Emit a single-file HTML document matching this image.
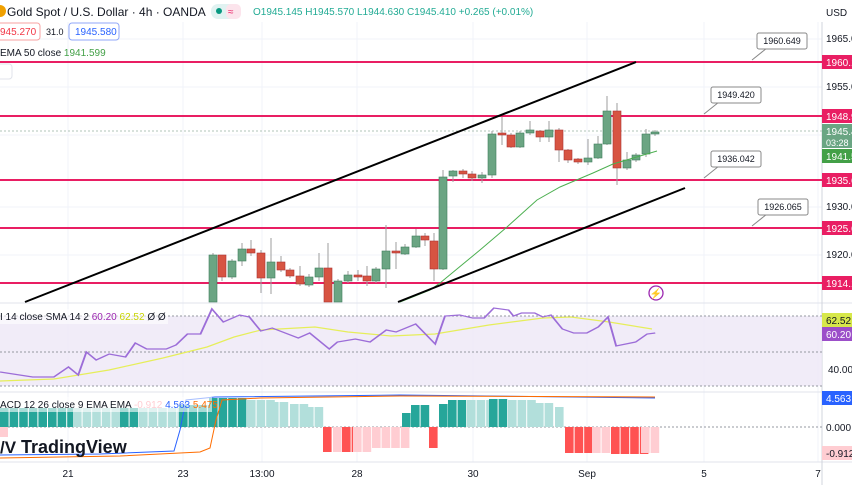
<!DOCTYPE html>
<html><head><meta charset="utf-8"><style>
body{margin:0;width:852px;height:485px;overflow:hidden;background:#fff;font-family:"Liberation Sans",sans-serif}
svg{display:block}
text{font-family:"Liberation Sans",sans-serif}
</style></head><body>
<svg width="852" height="485" xmlns="http://www.w3.org/2000/svg">
<g stroke="#f0f3fa" stroke-width="1">
<line x1="68" y1="0" x2="68" y2="462"/><line x1="183" y1="0" x2="183" y2="462"/><line x1="262" y1="0" x2="262" y2="462"/><line x1="357" y1="0" x2="357" y2="462"/><line x1="473" y1="0" x2="473" y2="462"/><line x1="587" y1="0" x2="587" y2="462"/><line x1="704" y1="0" x2="704" y2="462"/><line x1="818" y1="0" x2="818" y2="462"/>
<line x1="0" y1="15" x2="822" y2="15"/><line x1="0" y1="39" x2="822" y2="39"/><line x1="0" y1="87" x2="822" y2="87"/><line x1="0" y1="135" x2="822" y2="135"/><line x1="0" y1="207" x2="822" y2="207"/><line x1="0" y1="255" x2="822" y2="255"/>
</g>
<line x1="0" y1="303" x2="852" y2="303" stroke="#e0e3eb"/>
<line x1="0" y1="392" x2="852" y2="392" stroke="#e0e3eb"/>
<line x1="0" y1="462" x2="852" y2="462" stroke="#e0e3eb"/>
<line x1="822" y1="22" x2="822" y2="485" stroke="#d1d4dc"/>
<line x1="0" y1="131" x2="822" y2="131" stroke="#b0c4b8" stroke-dasharray="2,2"/>
<g stroke="#e91e63" stroke-width="2">
<line x1="0" y1="62" x2="822" y2="62"/><line x1="0" y1="116" x2="822" y2="116"/><line x1="0" y1="180" x2="822" y2="180"/><line x1="0" y1="228" x2="822" y2="228"/><line x1="0" y1="283" x2="822" y2="283"/>
</g>
<g id="c"></g>
<polyline fill="none" stroke="#4caf50" stroke-width="1" points="400,302 430,290 440,283 480,250 507,227 537,200 560,187 593,173 613,164 657,151"/>
<line x1="25" y1="302" x2="636" y2="62" stroke="#000" stroke-width="2"/>
<line x1="398" y1="302" x2="685" y2="188" stroke="#000" stroke-width="2"/>
<g font-size="9" fill="#131722" stroke-width="1">
<line x1="752" y1="60" x2="767" y2="48" stroke="#888"/><rect x="757" y="33" width="50" height="16" rx="2" fill="#fff" stroke="#888"/><text x="782" y="44" text-anchor="middle">1960.649</text>
<line x1="704" y1="114" x2="719" y2="102" stroke="#888"/><rect x="711" y="87" width="50" height="16" rx="2" fill="#fff" stroke="#888"/><text x="736" y="98" text-anchor="middle">1949.420</text>
<line x1="704" y1="178" x2="719" y2="166" stroke="#888"/><rect x="711" y="151" width="50" height="16" rx="2" fill="#fff" stroke="#888"/><text x="736" y="162" text-anchor="middle">1936.042</text>
<line x1="752" y1="226" x2="767" y2="214" stroke="#888"/><rect x="758" y="199" width="50" height="16" rx="2" fill="#fff" stroke="#888"/><text x="783" y="210" text-anchor="middle">1926.065</text>
</g>
<circle cx="656" cy="293" r="7" fill="none" stroke="#9c27b0" stroke-width="1.3"/><text x="656" y="297" font-size="10" fill="#9c27b0" text-anchor="middle">⚡</text>
<rect x="0" y="316" width="822" height="70" fill="#ede7f6" opacity="0.8"/>
<g stroke="#9598a1" stroke-dasharray="2,2"><line x1="0" y1="316" x2="822" y2="316"/><line x1="0" y1="352" x2="822" y2="352"/><line x1="0" y1="386" x2="822" y2="386"/></g>
<polyline fill="none" stroke="#e6ee5a" stroke-width="1.2" points="0,381 54,379 109,370 163,358 207,347 234,337 261,330 315,327 348,332 391,336 435,334 489,325 543,318 571,317 609,322 652,329"/>
<polyline fill="none" stroke="#9c6dd8" stroke-width="1.2" points="0,372 20,377 33,377 42,367 48,375 53,352 59,360 67,354 77,357 83,343 90,349 102,349 108,345 115,334 123,334 130,309 137,322 147,315 153,317 160,331 167,328 183,338 190,333 202,349 207,342 218,339 227,342 237,330 243,332 255,324 267,344 273,316 282,315 290,318 297,318 303,308 312,310 315,316 320,313 328,313 333,317 338,315 345,329 352,333 360,333 367,327 373,317 378,346 390,342 397,334 402,333" transform="scale(1.63,1)"/>
<rect x="0" y="309" width="168" height="15" fill="#fff" opacity="0.6"/>
<text x="0" y="320" font-size="10" fill="#131722">I 14 close SMA 14 2 <tspan fill="#9c27b0">60.20</tspan> <tspan fill="#c8d400">62.52</tspan> Ø Ø</text>
<line x1="0" y1="427" x2="822" y2="427" stroke="#9598a1" stroke-dasharray="2,2"/>
<g id="h"></g>
<polyline fill="none" stroke="#2962ff" stroke-width="1" points="0,455 100,454 174,451 180,430 186,400 215,397 400,395 655,398"/>
<polyline fill="none" stroke="#ff6d00" stroke-width="1" points="0,458 120,456 200,452 210,448 216,420 222,400 260,398 400,396 655,397"/>
<rect x="0" y="397" width="212" height="15" fill="#fff" opacity="0.6"/>
<text x="0" y="408" font-size="10" fill="#131722">ACD 12 26 close 9 EMA EMA <tspan fill="#ffcdd2">-0.912</tspan> <tspan fill="#2962ff">4.563</tspan> <tspan fill="#ff6d00">5.475</tspan></text>
<text x="0" y="453" font-size="17" font-weight="bold" fill="#131722">/V</text>
<text x="21" y="453" font-size="18" fill="#131722" font-weight="bold">TradingView</text>
<g font-size="10" fill="#131722" text-anchor="middle">
<text x="68" y="477">21</text><text x="183" y="477">23</text><text x="262" y="477">13:00</text><text x="357" y="477">28</text><text x="473" y="477">30</text><text x="587" y="477">Sep</text><text x="704" y="477">5</text><text x="818" y="477">7</text>
</g>
<g font-size="10" fill="#131722">
<text x="826" y="16">USD</text>
<text x="826" y="42">1965.0</text><text x="826" y="90">1955.0</text><text x="826" y="210">1930.0</text><text x="826" y="258">1920.0</text><text x="828" y="373">40.00</text><text x="826" y="431">0.000</text>
</g>
<g font-size="10" fill="#fff">
<rect x="822" y="55" width="30" height="14" fill="#e91e63"/><text x="826" y="66">1960.1</text>
<rect x="822" y="109" width="30" height="14" fill="#e91e63"/><text x="826" y="120">1948.9</text>
<rect x="822" y="124" width="30" height="24" fill="#6aa583"/><text x="826" y="135">1945.4</text><text x="826" y="146" font-size="9">03:28</text>
<rect x="822" y="149" width="30" height="14" fill="#43a047"/><text x="826" y="160">1941.5</text>
<rect x="822" y="173" width="30" height="14" fill="#e91e63"/><text x="826" y="184">1935.6</text>
<rect x="822" y="221" width="30" height="14" fill="#e91e63"/><text x="826" y="232">1925.6</text>
<rect x="822" y="276" width="30" height="14" fill="#e91e63"/><text x="826" y="287">1914.1</text>
<rect x="822" y="313" width="30" height="14" fill="#d7e84a"/><text x="826" y="324" fill="#131722">62.52</text>
<rect x="822" y="327" width="30" height="14" fill="#9c4fc9"/><text x="826" y="338">60.20</text>
<rect x="822" y="391" width="30" height="14" fill="#2962ff"/><text x="826" y="402">4.563</text>
<rect x="822" y="446" width="30" height="14" fill="#ffcdd2"/><text x="826" y="457" fill="#131722">-0.912</text>
</g>
<rect x="0" y="0" width="822" height="22" fill="#fff"/>
<circle cx="0" cy="11" r="6" fill="#f0a000"/>
<text x="7" y="16" font-size="12" fill="#131722">Gold Spot / U.S. Dollar · 4h · OANDA</text>
<rect x="211" y="4" width="30" height="15" rx="7" fill="#e0f2f1"/><circle cx="219" cy="11" r="3" fill="#089981"/><rect x="226" y="4" width="15" height="15" rx="5" fill="#fce4ec"/><text x="228" y="15" font-size="10" fill="#e91e63">≈</text>
<text x="253" y="15" font-size="10" fill="#22ab94">O1945.145 H1945.570 L1944.630 C1945.410 +0.265 (+0.01%)</text>
<rect x="-3" y="23" width="43" height="17" rx="3" fill="#fff" stroke="#f7a1a1"/><text x="0" y="35" font-size="10" fill="#f23645">945.270</text>
<text x="46" y="35" font-size="9" fill="#131722">31.0</text>
<rect x="69" y="23" width="50" height="17" rx="3" fill="#fff" stroke="#90a7f8"/><text x="75" y="35" font-size="10" fill="#2962ff">1945.580</text>
<text x="0" y="56" font-size="10" fill="#131722">EMA 50 close <tspan fill="#43a047">1941.599</tspan></text>
<rect x="-4" y="64" width="16" height="15" rx="3" fill="#fff" stroke="#e0e3eb"/>
</svg>
<script>
var C=[[213,255,302,253,302,1],[222,255,277,255,281,0],[232,261,277,259,279,1],[242,249,261,243,266,1],[251,249,253,240,256,0],[261,253,278,250,293,0],[271,262,278,238,294,1],[281,262,270,256,272,0],[290,270,276,268,278,0],[300,276,284,266,286,0],[309,277,285,274,287,1],[319,268,277,253,281,1],[328,268,302,243,302,0],[338,281,302,279,302,1],[348,275,281,271,283,1],[358,275,277,270,281,0],[367,276,281,266,286,0],[376,269,281,267,283,1],[386,251,269,225,288,1],[396,251,253,242,269,0],[405,247,254,244,255,1],[416,236,247,229,248,1],[425,236,240,233,246,0],[434,241,269,233,281,0],[443,177,269,170,270,1],[453,171,176,170,182,1],[463,171,174,169,178,0],[472,174,178,171,181,0],[482,175,178,172,183,1],[492,134,175,131,178,1],[502,133,135,117,145,0],[511,135,147,133,148,0],[520,133,147,131,148,1],[530,130,133,121,135,1],[540,131,137,130,142,0],[549,130,137,121,142,1],[559,130,150,128,162,0],[568,150,160,149,163,0],[578,159,162,158,164,0],[588,158,162,139,165,1],[598,144,158,136,159,1],[607,111,144,96,145,1],[617,111,168,103,185,0],[627,160,168,152,170,1],[636,155,160,153,162,1],[646,134,154,129,157,1],[655,132,134,130,136,1]];
var s='';C.forEach(function(c){var col=c[5]?'#6ba583':'#d75442';s+='<line x1="'+c[0]+'" y1="'+c[3]+'" x2="'+c[0]+'" y2="'+c[4]+'" stroke="#9e9e9e"/><rect x="'+(c[0]-4)+'" y="'+c[1]+'" width="8" height="'+Math.max(1.5,c[2]-c[1])+'" fill="'+col+'" stroke="'+(c[5]?'#3f7d5c':'#a33')+'" stroke-width="0.6"/>';});
document.getElementById('c').innerHTML=s;
var H=[[0,73,408,'#26a69a'],[73,120,408,'#b2dfdb'],[120,139,408,'#26a69a'],[139,179,408,'#b2dfdb'],[179,209,405,'#26a69a'],[209,247,398,'#26a69a'],[247,270,400,'#b2dfdb'],[270,290,402,'#b2dfdb'],[290,305,404,'#b2dfdb'],[305,323,407,'#b2dfdb'],[402,411,413,'#26a69a'],[411,429,405,'#26a69a'],[439,448,404,'#26a69a'],[448,467,400,'#26a69a'],[467,489,400,'#b2dfdb'],[489,508,399,'#26a69a'],[508,535,400,'#b2dfdb'],[535,555,403,'#b2dfdb'],[555,565,407,'#b2dfdb']];
var N=[[323,333,452,'#ff5252'],[333,342,452,'#ffcdd2'],[342,353,452,'#ff5252'],[353,372,452,'#ffcdd2'],[372,402,448,'#ffcdd2'],[429,439,448,'#ff5252'],[565,592,453,'#ff5252'],[592,611,453,'#ffcdd2'],[611,641,454,'#ff5252'],[641,660,453,'#ffcdd2']];
var h='';H.forEach(function(b){for(var x=b[0];x<b[1]-1;x+=9.6){h+='<rect x="'+x+'" y="'+b[2]+'" width="8.6" height="'+(427-b[2])+'" fill="'+b[3]+'"/>';}});
N.forEach(function(b){for(var x=b[0];x<b[1]-1;x+=9.6){h+='<rect x="'+x+'" y="427" width="8.6" height="'+(b[2]-427)+'" fill="'+b[3]+'"/>';}});
h+='<rect x="0" y="427" width="8" height="10" fill="#ffcdd2"/>';
document.getElementById('h').innerHTML=h;
</script>
</body></html>
